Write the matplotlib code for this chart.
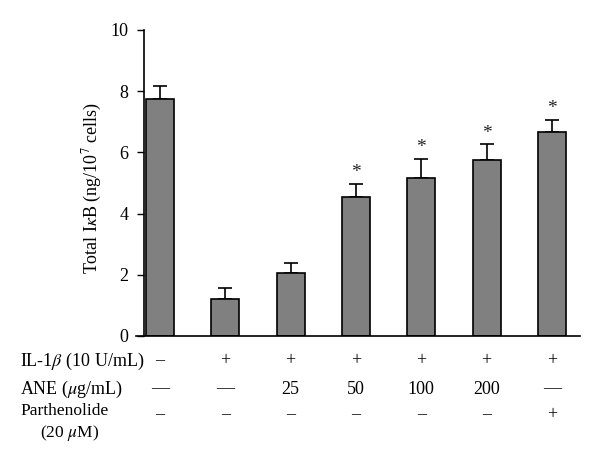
import matplotlib
matplotlib.use("Agg")
import matplotlib.pyplot as plt
import numpy as np

plt.rcParams['font.family'] = ['Liberation Serif', 'DejaVu Serif']
plt.rcParams['mathtext.fontset'] = 'stix'

# Data
means = [7.74, 1.21, 2.05, 4.53, 5.16, 5.74, 6.68]
errors = [0.44, 0.37, 0.32, 0.44, 0.62, 0.52, 0.37]
significant = [False, False, False, True, True, True, True]

row_labels = [r'IL-1$\beta$ (10 U/mL)', r'ANE ($\mu$g/mL)']
il1b_row = ['\u2013', '+', '+', '+', '+', '+', '+']
ane_row = ['\u2014', '\u2014', '25', '50', '100', '200', '\u2014']
parth_row = ['\u2013', '\u2013', '\u2013', '\u2013', '\u2013', '\u2013', '+']

W, H = 600, 463
FS = 13
fig = plt.figure(figsize=(6, 4.63), dpi=100)
ax = fig.add_axes([144 / W, 1 - 336 / H, (580 - 144) / W, (336 - 30) / H])

x = np.arange(len(means))
ax.bar(x, means, width=0.43, color='#808080', edgecolor='black', linewidth=1.2, zorder=2)
ax.errorbar(x, means, yerr=[np.zeros(len(errors)), errors], fmt='none',
            ecolor='black', elinewidth=1.2, capsize=5, capthick=1.2, zorder=1)

for xi, m, e, s in zip(x, means, errors, significant):
    if s:
        ax.annotate('*', (xi, m + e), xytext=(0, 2), textcoords='offset points',
                    ha='center', va='bottom', fontsize=14, color='#222222')

ax.set_xlim(-0.245, 6.43)
ax.set_ylim(0, 10)
ax.set_yticks([0, 2, 4, 6, 8, 10])
ax.set_xticks([])
ax.tick_params(axis='y', direction='out', length=5, width=1, labelsize=FS, pad=6)
ax.spines['top'].set_visible(False)
ax.spines['right'].set_visible(False)
ax.spines['left'].set_linewidth(1.2)
ax.spines['bottom'].set_visible(False)
ax.plot([-0.37, 6.43], [0, 0], color='black', linewidth=1.2, clip_on=False, zorder=3)

fig.text(92 / W, 1 - 188 / H, r'Total I$\kappa$B (ng/10$^7$ cells)', rotation=90,
         ha='center', va='center', fontsize=FS)

# treatment table below the axis
rows_y = [361, 389, 415]
for ry, lab in zip(rows_y, row_labels):
    fig.text(20 / W, 1 - ry / H, lab, ha='left', va='center', fontsize=FS)
fig.text(20 / W, 1 - 411 / H, 'Parthenolide', ha='left', va='center', fontsize=12.5)
fig.text(70 / W, 1 - 433 / H, r'(20 $\mu$M)', ha='center', va='center', fontsize=12.5)

for row, ry in zip([il1b_row, ane_row, parth_row], rows_y):
    for xi, t in zip(x, row):
        px = ax.transData.transform((xi, 0))[0]
        fig.text(px / W, 1 - ry / H, t, ha='center', va='center', fontsize=FS)

fig.savefig('out.png', dpi=100)
